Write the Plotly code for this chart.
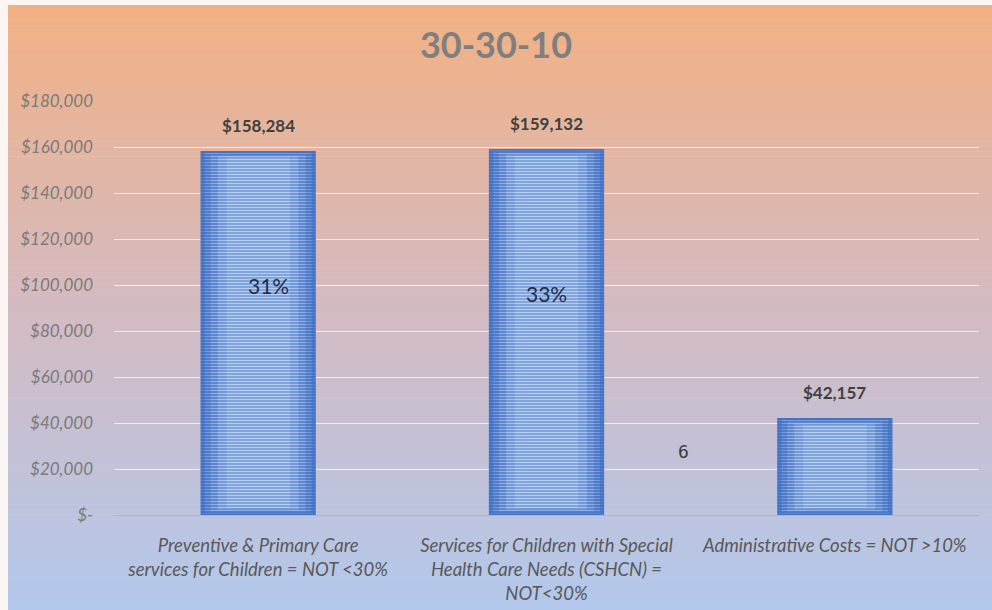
import plotly.graph_objects as go

# Spending by category
categories = [
    "Preventive & Primary Care<br>services for Children = NOT <30%",
    "Services for Children with Special<br>Health Care Needs (CSHCN) =<br>NOT<30%",
    "Administrative Costs = NOT >10%",
]
amounts = [158284, 159132, 42157]
share_labels = ["31%", "33%"]
share_label_y = [100000, 96500]

tick_values = [0, 20000, 40000, 60000, 80000, 100000, 120000, 140000, 160000, 180000]
tick_labels = ["$-", "$20,000", "$40,000", "$60,000", "$80,000", "$100,000",
               "$120,000", "$140,000", "$160,000", "$180,000"]

W, H = 992, 610
L, R, T, B = 114, 979, 101, 515  # plot area in pixels
PW, PH = R - L, B - T


def px_x(px):
    return (px - L) / PW


def px_y(py):
    return (B - py) / PH


fig = go.Figure()

# striped bar bodies: layered so the stripes brighten towards the middle
layers = [
    (0.40, 0, "#4472C4", "#6F90D0", 0.30),
    (0.37, 900, "#4D7BCA", "#A3BAE4", 0.35),
    (0.33, 1600, "#5883CE", "#CBD8F1", 0.40),
    (0.28, 2300, "#6690D4", "#E9F0FB", 0.45),
    (0.22, 3000, "#729AD9", "#FFFFFF", 0.48),
]
for width, inset, color, stripe, solidity in layers:
    fig.add_trace(go.Bar(
        x=categories, y=[a - 2 * inset for a in amounts], base=[inset] * len(amounts),
        width=width,
        marker=dict(color=color, line=dict(width=0),
                    pattern=dict(shape="-", fgcolor=stripe, size=3, solidity=solidity)),
        hoverinfo="skip",
    ))

# gradient background bands
shapes = []
stops = [(5, (242, 177, 131)), (300, (212, 186, 192)), (610, (178, 200, 236))]
n = 120
for i in range(n):
    y0p = 5 + (H - 5) * i / n
    y1p = 5 + (H - 5) * (i + 1) / n
    mid = (y0p + y1p) / 2
    for (a, ca), (b, cb) in zip(stops[:-1], stops[1:]):
        if a <= mid <= b:
            t = (mid - a) / (b - a)
            c = tuple(round(ca[k] + (cb[k] - ca[k]) * t) for k in range(3))
            break
    shapes.append(dict(
        type="rect", xref="paper", yref="paper", layer="below",
        x0=px_x(8), x1=px_x(W), y0=px_y(y1p + 0.6), y1=px_y(y0p),
        fillcolor="rgb(%d,%d,%d)" % c, line=dict(width=0),
    ))

annotations = []
# value labels above the bars
for cat, amt in zip(categories, amounts):
    annotations.append(dict(
        x=cat, y=amt, text="<b>${:,}</b>".format(amt), showarrow=False,
        yanchor="bottom", yshift=13,
        font=dict(family="Lato", size=17, color="#404040"),
    ))
# share labels inside the bars
for i in range(len(share_labels)):
    annotations.append(dict(
        x=categories[i], y=share_label_y[i], text=share_labels[i], showarrow=False,
        xshift=10 if i == 0 else 0,
        font=dict(family="Lato", size=21, color="#1F2D4D"),
    ))
annotations.append(dict(
    xref="paper", x=px_x(683), y=27800, text="6", showarrow=False,
    font=dict(family="DejaVu Sans Mono", size=18, color="#3A3A3A"),
))

fig.update_layout(
    width=W, height=H,
    margin=dict(l=L, r=W - R, t=T, b=H - B, pad=0),
    paper_bgcolor="#FBF6F3",
    plot_bgcolor="rgba(0,0,0,0)",
    barmode="overlay",
    showlegend=False,
    shapes=shapes,
    annotations=annotations,
    title=dict(text="<b>30-30-10</b>", x=0.5, xref="container", xanchor="center",
               y=1 - 45 / H, yanchor="middle",
               font=dict(family="Lato", size=36, color="#7F7F7F")),
    xaxis=dict(
        tickfont=dict(family="Lato", size=18.5, color="#595959", style="italic"),
        showgrid=False, showline=False, ticks="", ticklabelstandoff=17,
        automargin=False,
    ),
    yaxis=dict(
        range=[0, 180000], tickvals=tick_values, ticktext=tick_labels,
        tickfont=dict(family="Lato", size=17, color="#7A7A7A", style="italic"),
        gridcolor="rgba(255,255,255,0.7)", gridwidth=1,
        zeroline=True, zerolinecolor="#B5B5B5", zerolinewidth=1,
        showline=False, ticks="", ticklabelstandoff=20, automargin=False,
    ),
)

fig.write_html("out.html")
